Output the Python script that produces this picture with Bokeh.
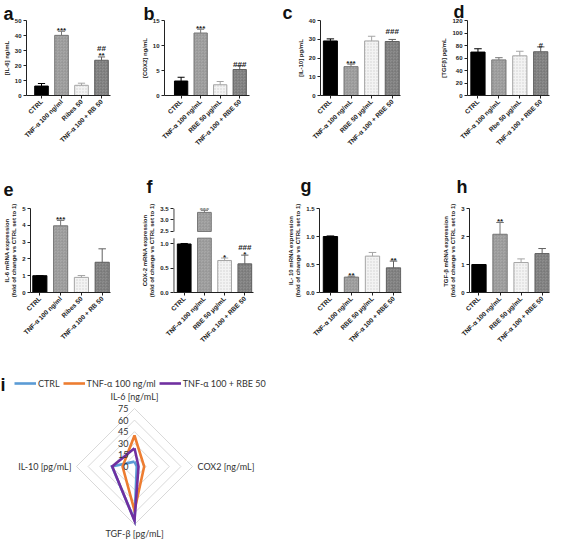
import math
import numpy as np
from bokeh.plotting import figure
from bokeh.layouts import row, column
from bokeh.models import Range1d, FixedTicker, Label, Legend, LegendItem, ColumnDataSource
from bokeh.core.properties import value
from bokeh.embed import file_html
from bokeh.resources import INLINE

# ------------------------------------------------------------------ data
a_labels = ["CTRL", "TNF-α 100 ng/ml", "Ribes 50", "TNF-α 100 + RB 50"]
a_mean = [6.3, 40.1, 6.8, 23.5]
a_sem = [1.7, 2.7, 1.4, 2.2]
a_sig1 = ["", "***", "", "**"]
a_sig2 = ["", "", "", "##"]
a_yticks = [0, 10, 20, 30, 40, 50]

b_labels = ["CTRL", "TNF-α 100 ng/mL", "RBE 50 µg/mL", "TNF-α 100 + RBE 50"]
b_mean = [2.9, 12.5, 2.15, 5.2]
b_sem = [0.75, 0.75, 0.65, 0.75]
b_sig1 = ["", "***", "", "###"]
b_sig2 = ["", "", "", ""]
b_yticks = [0, 5, 10, 15]

c_labels = ["CTRL", "TNF-α 100 ng/mL", "RBE 50 µg/mL", "TNF-α 100 + RBE 50"]
c_mean = [29.1, 15.4, 29.1, 28.8]
c_sem = [1.1, 1.3, 2.5, 1.1]
c_sig1 = ["", "***", "", ""]
c_sig2 = ["", "", "", "###"]
c_yticks = [0, 10, 20, 30, 40]

d_labels = ["CTRL", "TNF-α 100 ng/mL", "Rbe 50 µg/mL", "TNF-α 100 + RBE 50"]
d_mean = [69.5, 57.0, 63.5, 70.0]
d_sem = [5.3, 3.5, 7.3, 7.8]
d_sig1 = ["", "", "", "#"]
d_sig2 = ["", "", "", ""]
d_yticks = [0, 20, 40, 60, 80, 100, 120]

e_labels = ["CTRL", "TNF-α 100 ng/ml", "Ribes 50", "TNF-α 100 + RB 50"]
e_mean = [1.0, 3.97, 0.9, 1.8]
e_sem = [0.0, 0.32, 0.11, 0.8]
e_sig1 = ["", "***", "", ""]
e_sig2 = ["", "", "", ""]
e_yticks = [0, 1, 2, 3, 4, 5]

f_labels = ["CTRL", "TNF-α 100 ng/mL", "RBE 50 µg/mL", "TNF-α 100 + RBE 50"]
f_mean = [1.0, 3.33, 0.66, 0.59]
f_sem = [0.01, 0.09, 0.05, 0.18]
f_sig1 = ["", "***", "*", "*"]
f_sig2 = ["", "", "", "###"]
f_yticks = [0.0, 0.5, 1.0, 2.5, 3.0, 3.5]
f_ytick_labels = ["0.0", "0.5", "1.0", "2.5", "3.0", "3.5"]
f_break = (1.12, 2.5)      # lower segment ends / upper segment starts

g_labels = ["CTRL", "TNF-α 100 ng/mL", "RBE 50 µg/mL", "TNF-α 100 + RBE 50"]
g_mean = [1.0, 0.275, 0.65, 0.44]
g_sem = [0.01, 0.015, 0.065, 0.12]
g_sig1 = ["", "**", "", "**"]
g_sig2 = ["", "", "", ""]
g_yticks = [0.0, 0.5, 1.0, 1.5]
g_ytick_labels = ["0.0", "0.5", "1.0", "1.5"]

h_labels = ["CTRL", "TNF-α 100 ng/mL", "RBE 50 µg/mL", "TNF-α 100 + RBE 50"]
h_mean = [1.0, 2.08, 1.07, 1.39]
h_sem = [0.0, 0.42, 0.13, 0.18]
h_sig1 = ["", "**", "", ""]
h_sig2 = ["", "", "", ""]
h_yticks = [0, 1, 2, 3]

radar_axes = ["IL-6 [ng/mL]", "COX2 [ng/mL]", "TGF-β [pg/mL]", "IL-10 [pg/mL]"]
radar_rings = [0, 15, 30, 45, 60, 75]
radar_series = ["CTRL", "TNF-α 100 ng/ml", "TNF-α 100 + RBE 50"]
radar_ctrl = [6.3, 2.9, 69.5, 29.1]
radar_tnf = [40.1, 12.5, 57.0, 15.4]
radar_tnf_rbe = [23.5, 5.2, 70.0, 28.8]
radar_colors = ["#5b9bd5", "#ed7d31", "#7030a0"]

# ------------------------------------------------------------------ styles
FONT = "Liberation Sans"
BAR_FILL = ["#000000", "#a8a8a8", "#f3f3f3", "#8e8e8e"]
BAR_LINE = ["#000000", "#767676", "#a5a5a5", "#606060"]
BAR_HATCH = ["blank", "criss_cross", "dot", "criss_cross"]
HATCH_COL = ["#000000", "#909090", "#c4c4c4", "#747474"]
AXC = "#222222"


def style_axes(p, ylabel):
    for ax in (p.xaxis[0], p.yaxis[0]):
        ax.axis_line_color = AXC
        ax.major_tick_line_color = AXC
        ax.major_tick_out = 3
        ax.major_tick_in = 0
        ax.minor_tick_line_color = None
        ax.major_label_text_font = FONT
        ax.major_label_text_font_style = "bold"
        ax.major_label_text_color = AXC
        ax.major_label_standoff = 2
    p.yaxis.major_label_text_font_size = "6px"
    p.xaxis.major_label_text_font_size = "6.5px"
    p.xaxis.major_label_orientation = math.pi / 4
    p.yaxis.axis_label = ylabel
    p.yaxis.axis_label_text_font = FONT
    p.yaxis.axis_label_text_font_size = "6px"
    p.yaxis.axis_label_text_font_style = "bold"
    p.yaxis.axis_label_text_color = AXC
    p.yaxis.axis_label_standoff = 2
    p.xgrid.visible = False
    p.ygrid.visible = False
    p.outline_line_color = None


def bar_panel(letter, labels, mean, sem, sig1, sig2, ylabel, yticks, ytick_labels,
              xr, W, H, bl, br, bt, bb, letter_x, letter_standoff, brk=None):
    mean = np.array(mean, float)
    sem = np.array(sem, float)
    xs = np.arange(len(mean), dtype=float)
    f = (lambda v: v) if brk is None else brk
    ymax = f(max(yticks))
    p = figure(width=W, height=H, x_range=Range1d(*xr), y_range=Range1d(0, ymax),
               output_backend="svg", toolbar_location=None,
               min_border_left=bl, min_border_right=br,
               min_border_top=bt, min_border_bottom=bb)
    style_axes(p, ylabel)
    bx, bbot, btop, bfill, bline, bhat, bhc = [], [], [], [], [], [], []
    for i, v in enumerate(mean):
        if brk is not None and v > f_break[0]:
            pieces = [(0.0, f_break[0]), (f(f_break[1]), f(v))]
        else:
            pieces = [(0.0, f(v))]
        for lo, hi in pieces:
            bx.append(xs[i]); bbot.append(lo); btop.append(hi)
            bfill.append(BAR_FILL[i]); bline.append(BAR_LINE[i])
            bhat.append(BAR_HATCH[i]); bhc.append(HATCH_COL[i])
    src = ColumnDataSource(dict(x=bx, bottom=bbot, top=btop, fill=bfill, line=bline,
                                hat=bhat, hc=bhc))
    p.vbar(x="x", bottom="bottom", top="top", width=0.68, source=src,
           fill_color="fill", line_color="line", line_width=1,
           hatch_pattern="hat", hatch_color="hc", hatch_scale=3, hatch_weight=0.6,
           hatch_alpha=0.7)
    y0 = np.array([f(v) for v in mean])
    y1 = np.array([f(v) for v in mean + sem])
    p.segment(x0=xs, y0=y0, x1=xs, y1=y1, line_color=BAR_LINE, line_width=1)
    p.segment(x0=xs - 0.18, y0=y1, x1=xs + 0.18, y1=y1, line_color=BAR_LINE, line_width=1)
    tf = value(FONT)
    p.text(x=xs, y=y1, text=sig1, text_align="center", text_baseline="alphabetic",
           y_offset=-1, text_font=tf, text_font_size="8px", text_font_style="bold",
           text_color=AXC)
    p.text(x=xs, y=y1, text=sig2, text_align="center", text_baseline="alphabetic",
           y_offset=-8, text_font=tf, text_font_size="8px", text_font_style="bold",
           text_color=AXC)
    p.xaxis.ticker = FixedTicker(ticks=list(xs))
    p.xaxis.major_label_overrides = {int(i): lab for i, lab in enumerate(labels)}
    tpos = [f(t) for t in yticks]
    p.yaxis.ticker = FixedTicker(ticks=tpos)
    if ytick_labels is not None:
        p.yaxis.major_label_overrides = {tp: lab for tp, lab in zip(tpos, ytick_labels)}
    if brk is not None:
        p.yaxis.axis_line_color = None
        ax_x = xr[0] + 0.012
        p.segment(x0=[ax_x, ax_x], y0=[0, f(f_break[1])], x1=[ax_x, ax_x],
                  y1=[f_break[0], f(max(yticks))], line_color=AXC, line_width=1.3)
    # panel letter as the plot title
    p.title.text = letter
    p.title.align = "left"
    p.title.offset = letter_x - bl
    p.title.standoff = letter_standoff
    p.title.text_font = FONT
    p.title.text_font_size = "18px"
    p.title.text_font_style = "bold"
    p.title.text_color = "#111111"
    return p


def f_brk(v):
    lo, hi = f_break
    if v <= lo:
        return v
    return lo + 0.138 + (v - hi) * 0.473


H1, H2, H3 = 158, 194, 190

pa = bar_panel("a", a_labels, a_mean, a_sem, a_sig1, a_sig2, "[IL-6] ng/mL", a_yticks, None,
               (-0.75, 3.45), 138, H1, 23, 28, 9, 63, 0, -6)
pb = bar_panel("b", b_labels, b_mean, b_sem, b_sig1, b_sig2, "[COX2] ng/mL", b_yticks, None,
               (-0.85, 3.5), 138, H1, 23, 27, 9, 63, 2, -6)
pc = bar_panel("c", c_labels, c_mean, c_sem, c_sig1, c_sig2, "[IL-10] pg/mL", c_yticks, None,
               (-0.48, 3.4), 146, H1, 44, 22, 10, 63, 6, -4)
pd = bar_panel("d", d_labels, d_mean, d_sem, d_sig1, d_sig2, "[TGFβ] pg/mL", d_yticks, None,
               (-0.5, 3.42), 129, H1, 45, 2, 12, 63, 31, -2)

pe = bar_panel("e", e_labels, e_mean, e_sem, e_sig1, e_sig2,
               "IL-6 mRNA expression\n(fold of change vs CTRL set to 1)", e_yticks, None,
               (-0.45, 3.4), 138, H2, 27, 28, 42, 60, 0, 25)
pf = bar_panel("f", f_labels, f_mean, f_sem, f_sig1, f_sig2,
               "COX-2 mRNA expression\n(fold of change vs CTRL set to 1)", f_yticks, f_ytick_labels,
               (-0.53, 3.43), 138, H2, 30, 23, 46, 60, 3, 23, brk=f_brk)
pg = bar_panel("g", g_labels, g_mean, g_sem, g_sig1, g_sig2,
               "IL- 10 mRNA expression\n(fold of change vs CTRL set to 1)", g_yticks, g_ytick_labels,
               (-0.52, 3.38), 146, H2, 43, 21, 47, 60, 24, 25)
ph = bar_panel("h", h_labels, h_mean, h_sem, h_sig1, h_sig2,
               "TGF-β  mRNA expression\n(fold of change vs CTRL set to 1)", h_yticks, None,
               (-0.45, 3.35), 129, H2, 47, 2, 50, 60, 34, 24)

# ------------------------------------------------------------------ radar (panel i)
W3 = 551
R_PX = 58.0
rmax = max(radar_rings)
s = R_PX / rmax
cx, cy = 134.0, 114.0
pr = figure(width=W3, height=H3, output_backend="svg", toolbar_location=None,
            x_range=Range1d(-cx / s, (W3 - cx) / s),
            y_range=Range1d(-(H3 - cy) / s, cy / s), min_border=0)
pr.axis.visible = False
pr.grid.visible = False
pr.outline_line_color = None

angles = np.array([math.pi / 2, 0.0, -math.pi / 2, math.pi])
ring_xs, ring_ys = [], []
for rv in radar_rings[1:]:
    ring_xs.append(list(np.append(rv * np.cos(angles), rv * np.cos(angles[0]))))
    ring_ys.append(list(np.append(rv * np.sin(angles), rv * np.sin(angles[0]))))
pr.multi_line(xs=ring_xs, ys=ring_ys, line_color="#d9d9d9", line_width=1)

items = []
for name, vals, col in zip(radar_series, [radar_ctrl, radar_tnf, radar_tnf_rbe], radar_colors):
    v = np.array(vals, float)
    xs = np.append(v * np.cos(angles), v[0] * np.cos(angles[0]))
    ys = np.append(v * np.sin(angles), v[0] * np.sin(angles[0]))
    r = pr.line(xs, ys, line_color=col, line_width=2.6, line_join="miter")
    items.append(LegendItem(label=name, renderers=[r]))

RF = value("Lato")
pr.text(x=[0] * len(radar_rings), y=radar_rings, text=[str(t) for t in radar_rings],
        x_offset=-6, text_align="right", text_baseline="middle",
        text_font=RF, text_font_size="9px", text_color="#333333")
ax_x = list(rmax * np.round(np.cos(angles), 6))
ax_y = list(rmax * np.round(np.sin(angles), 6))
pr.text(x=[ax_x[0]], y=[ax_y[0]], text=[radar_axes[0]], text_align="center",
        text_baseline="bottom", y_offset=-7, text_font=RF, text_font_size="9px",
        text_color="#333333")
pr.text(x=[ax_x[1]], y=[ax_y[1]], text=[radar_axes[1]], text_align="left",
        text_baseline="middle", x_offset=5, text_font=RF, text_font_size="9px",
        text_color="#333333")
pr.text(x=[ax_x[2]], y=[ax_y[2]], text=[radar_axes[2]], text_align="center",
        text_baseline="top", y_offset=3, text_font=RF, text_font_size="9px",
        text_color="#333333")
pr.text(x=[ax_x[3]], y=[ax_y[3]], text=[radar_axes[3]], text_align="right",
        text_baseline="middle", x_offset=-5, text_font=RF, text_font_size="9px",
        text_color="#333333")

leg = Legend(items=items, orientation="horizontal", location=(14, H3 - 41),
             margin=0, padding=0, spacing=3, glyph_width=22, glyph_height=20,
             label_height=20, label_standoff=2, label_text_font="Lato",
             label_text_font_size="9px", label_text_color="#333333",
             background_fill_alpha=0, border_line_color=None)
pr.add_layout(leg)
pr.add_layout(Label(x=0, y=H3 - 32, x_units="screen", y_units="screen", text="i",
                    text_font=FONT, text_font_size="18px", text_font_style="bold",
                    text_color="#111111", text_baseline="alphabetic"))

layout = column(row(pa, pb, pc, pd), row(pe, pf, pg, ph), pr)
open("out.html", "w").write(file_html(layout, INLINE))
